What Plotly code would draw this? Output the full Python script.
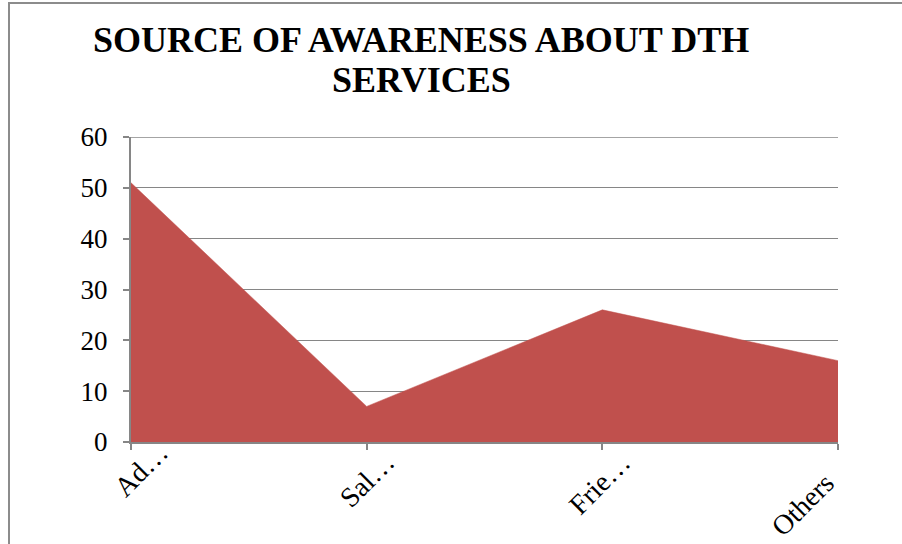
import plotly.graph_objects as go

categories = ["Ad…", "Sal…", "Frie…", "Others"]
values = [51, 7, 26, 16]
y_ticks = [0, 10, 20, 30, 40, 50, 60]
title_lines = ["SOURCE OF AWARENESS ABOUT DTH", "SERVICES"]

# pixel nudges of the rotated category labels (style, mimics the original's truncated-label placement)
label_shift_x = [46, 37, 37, 5]
label_shift_y = [8, -1, -2, -22]

W, H = 902, 544
ml, mr, mt, mb = 131, 64, 137, 102
pw, ph = W - ml - mr, H - mt - mb

fig = go.Figure()
fig.add_trace(go.Scatter(
    x=list(range(len(categories))), y=values, mode="lines",
    fill="tozeroy", fillcolor="#C0504D",
    line=dict(color="#C0504D", width=0.5), hoverinfo="skip", showlegend=False,
))

grid = "#868686"
font_family = "Liberation Serif, Times New Roman, serif"

fig.update_layout(
    width=W, height=H,
    margin=dict(l=ml, r=mr, t=mt, b=mb, autoexpand=False),
    paper_bgcolor="white", plot_bgcolor="white",
    xaxis=dict(
        range=[0, len(categories) - 1], automargin=False,
        tickmode="array", tickvals=list(range(len(categories))), ticktext=categories,
        showticklabels=False,
        ticks="outside", ticklen=6, tickcolor=grid, tickwidth=1.5,
        showline=True, linecolor=grid, linewidth=2,
        showgrid=False, zeroline=False,
    ),
    yaxis=dict(
        range=[0, 60], tickmode="array", tickvals=y_ticks, automargin=False,
        ticks="outside", ticklen=6, tickcolor=grid, tickwidth=1.5,
        showline=True, linecolor=grid, linewidth=2,
        showgrid=True, gridcolor=grid, gridwidth=1.3, zeroline=False,
        ticklabelstandoff=10,
        tickfont=dict(family=font_family, size=27, color="black"),
    ),
)

# category labels, rotated
for i, cat in enumerate(categories):
    fig.add_annotation(
        text=cat, x=i, y=0, xref="x", yref="y",
        xanchor="right", yanchor="top", textangle=-45, showarrow=False,
        xshift=label_shift_x[i], yshift=label_shift_y[i],
        font=dict(family=font_family, size=28, color="black"),
    )

# top gridline at the axis maximum (plotly hides gridlines on the range edge)
fig.add_shape(
    type="line", xref="paper", yref="y", x0=0, x1=1,
    y0=max(y_ticks), y1=max(y_ticks),
    line=dict(color=grid, width=1.3), layer="below",
)

# title as two centered lines
for i, line in enumerate(title_lines):
    fig.add_annotation(
        text=f"<b>{line}</b>", xref="paper", yref="paper",
        x=(421 - ml) / pw, y=(H - mb - (40 + 40 * i)) / ph,
        xanchor="center", yanchor="middle", showarrow=False,
        font=dict(family=font_family, size=36, color="black"),
    )

# outer frame (cropped chart border)
fig.add_shape(
    type="rect", xref="paper", yref="paper",
    x0=(9 - ml) / pw, x1=(W + 20 - ml) / pw,
    y0=(H - mb - (H + 20)) / ph, y1=(H - mb - 3) / ph,
    line=dict(color="#8C8C8C", width=2), layer="below",
)

fig.write_html("out.html")
